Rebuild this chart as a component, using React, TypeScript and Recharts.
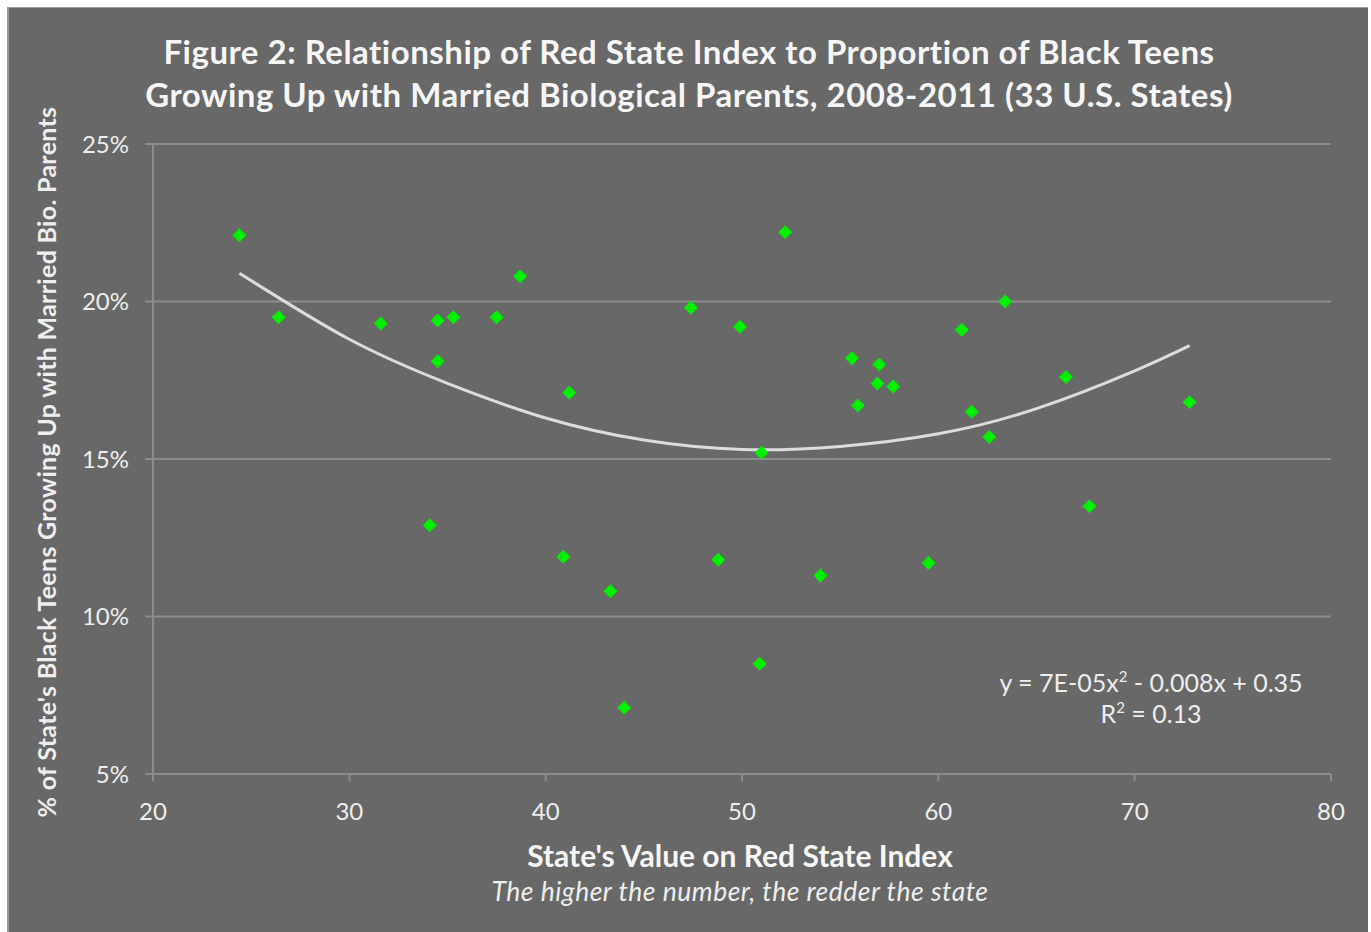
import {
  ComposedChart,
  Scatter,
  Line,
  XAxis,
  YAxis,
  CartesianGrid,
} from "recharts";

// Red State Index value for each of the 33 states
const indexValues = [
  24.4, 26.4, 31.6, 34.5, 35.3, 34.5, 37.5, 38.7, 41.2, 34.1, 40.9, 43.3, 44.0,
  47.4, 48.8, 49.9, 52.2, 51.0, 50.9, 54.0, 55.6, 55.9, 57.0, 56.9, 57.7, 59.5,
  61.2, 61.7, 62.6, 63.4, 66.5, 67.7, 72.8,
];

// % of black teens growing up with married biological parents
const teenShares = [
  22.1, 19.5, 19.3, 19.4, 19.5, 18.1, 19.5, 20.8, 17.1, 12.9, 11.9, 10.8, 7.1,
  19.8, 11.8, 19.2, 22.2, 15.2, 8.5, 11.3, 18.2, 16.7, 18.0, 17.4, 17.3, 11.7,
  19.1, 16.5, 15.7, 20.0, 17.6, 13.5, 16.8,
];

// trendline
const trendX = [24.4, 30, 35, 40, 45, 50, 55, 60, 65, 70, 72.8];
const trendY = [20.9, 18.8, 17.4, 16.3, 15.6, 15.3, 15.4, 15.8, 16.6, 17.8, 18.6];

const xTicks = [20, 30, 40, 50, 60, 70, 80];
const yTicks = [5, 10, 15, 20, 25];

const points = indexValues.map((x, i) => ({ x, y: teenShares[i] }));
const trend = trendX.map((x, i) => ({ x, t: trendY[i] }));

const BG = "#686868";
const GRID = "#8c8c8c";
const TEXT = "#eeeeee";
const FONT = "Lato, 'Open Sans', sans-serif";

const Diamond = (props: any) => {
  const { cx, cy } = props;
  const r = 7;
  return (
    <polygon
      points={`${cx},${cy - r} ${cx + r},${cy} ${cx},${cy + r} ${cx - r},${cy}`}
      fill="#00f000"
    />
  );
};

const sup = { fontSize: 15, verticalAlign: "10px", lineHeight: 0 };

export default function App() {
  return (
    <div
      style={{
        position: "absolute",
        left: 0,
        top: 0,
        width: 1371,
        height: 932,
        background: "#fff",
        fontFamily: FONT,
      }}
    >
      <div
        style={{
          position: "absolute",
          left: 7,
          top: 7,
          width: 1361,
          height: 925,
          background: BG,
          borderLeft: "2px solid #9a9a9a",
          borderTop: "1px solid #9a9a9a",
          boxSizing: "border-box",
        }}
      />
      <div style={{ position: "absolute", left: 0, top: 0 }}>
        <ComposedChart
          width={1371}
          height={932}
          margin={{ top: 144, right: 40, bottom: 128, left: 83 }}
        >
          <CartesianGrid
            horizontal
            vertical={false}
            stroke={GRID}
            strokeWidth={2}
          />
          <XAxis
            type="number"
            dataKey="x"
            domain={[20, 80]}
            ticks={xTicks}
            height={30}
            stroke={GRID}
            strokeWidth={2}
            tickSize={7}
            tickMargin={22}
            tick={{ fill: TEXT, fontSize: 24, fontFamily: FONT }}
            allowDataOverflow
          />
          <YAxis
            type="number"
            domain={[5, 25]}
            ticks={yTicks}
            width={70}
            stroke={GRID}
            strokeWidth={2}
            tickSize={8}
            tickMargin={16}
            tickFormatter={(v: number) => `${v}%`}
            tick={{ fill: TEXT, fontSize: 24, fontFamily: FONT }}
          />
          <Line
            data={trend}
            dataKey="t"
            type="natural"
            stroke="#dcdcdc"
            strokeWidth={3}
            dot={false}
            activeDot={false}
            isAnimationActive={false}
          />
          <Scatter
            data={points}
            dataKey="y"
            shape={Diamond}
            isAnimationActive={false}
          />
        </ComposedChart>
      </div>

      <div
        style={{
          position: "absolute",
          left: 0,
          width: 1378,
          top: 30,
          textAlign: "center",
          color: "#f6f6f6",
          fontWeight: 700,
          fontSize: 33,
          lineHeight: "43px",
          letterSpacing: 0.5,
        }}
      >
        Figure 2: Relationship of Red State Index to Proportion of Black Teens
        <br />
        Growing Up with Married Biological Parents, 2008-2011 (33 U.S. States)
      </div>

      <div
        style={{
          position: "absolute",
          left: 46,
          top: 462,
          transform: "translate(-50%, -50%) rotate(-90deg)",
          whiteSpace: "nowrap",
          color: TEXT,
          fontSize: 25,
          fontWeight: 700,
          letterSpacing: 0.3,
        }}
      >
        % of State's Black Teens Growing Up with Married Bio. Parents
      </div>

      <div
        style={{
          position: "absolute",
          left: 0,
          width: 1480,
          top: 837,
          textAlign: "center",
          color: "#f6f6f6",
          fontWeight: 700,
          fontSize: 30,
        }}
      >
        State's Value on Red State Index
      </div>
      <div
        style={{
          position: "absolute",
          left: 0,
          width: 1480,
          top: 875,
          textAlign: "center",
          color: TEXT,
          fontStyle: "italic",
          fontSize: 26.5,
          letterSpacing: 0.5,
        }}
      >
        The higher the number, the redder the state
      </div>

      <div
        style={{
          position: "absolute",
          left: 950,
          width: 402,
          top: 667,
          textAlign: "center",
          color: TEXT,
          fontSize: 25,
          lineHeight: "31px",
        }}
      >
        y = 7E-05x<sup style={sup}>2</sup> - 0.008x + 0.35
        <br />
        R<sup style={sup}>2</sup> = 0.13
      </div>
    </div>
  );
}
